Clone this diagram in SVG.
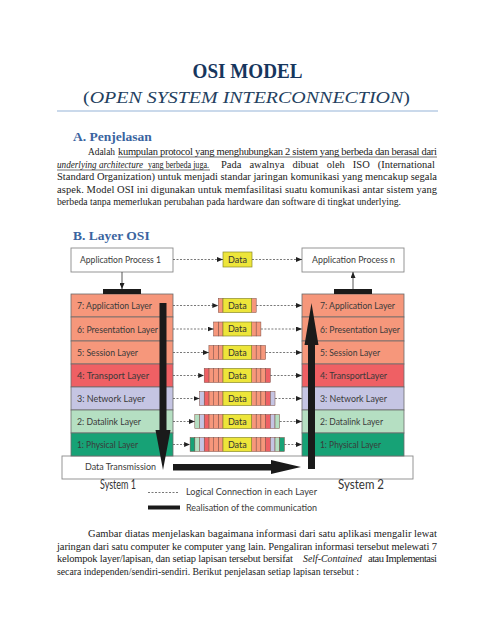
<svg xmlns="http://www.w3.org/2000/svg" width="495" height="640" viewBox="0 0 495 640">
<defs>
<style>
.body{font-family:"Liberation Serif","Times New Roman",serif;font-size:10.5px;fill:#222}
.it{font-style:italic}
.ul{stroke:#333;stroke-width:0.7}
.head{font-family:"Liberation Serif",serif;font-weight:bold;font-size:13.5px;fill:#3a64a0}
.lbl{font-family:Lato,"Open Sans","Liberation Sans",sans-serif;font-size:9.5px;fill:#3a3a3a}
.dat{font-family:Lato,"Open Sans","Liberation Sans",sans-serif;font-size:9px;fill:#333;text-anchor:middle}
.box{fill:#fff;stroke:#8a8a8a;stroke-width:0.9}
.row{stroke:#6b6b6b;stroke-width:0.8}
.l7{fill:#f6977b}.l4{fill:#ef6064}.l3{fill:#c5c5e3}.l2{fill:#b5dfc2}.l1{fill:#17a276}
.sec{stroke:#7a4a40;stroke-width:0.5}
.yel{fill:#ede53a;stroke:#8a8a2a;stroke-width:0.7}
.dash{stroke:#555;stroke-width:0.8;stroke-dasharray:2 1.5;fill:none}
.blk{fill:#1a1a1a}
</style>
<marker id="ah" markerWidth="6" markerHeight="5" refX="6" refY="2.5" orient="auto" markerUnits="userSpaceOnUse">
<path d="M0,0 L6,2.5 L0,5 Z" fill="#222"/>
</marker>
</defs>
<rect width="495" height="640" fill="#fff"/>

<g id="title">
<text x="247.5" y="78" text-anchor="middle" font-family="Liberation Serif,serif" font-weight="bold" font-size="22" fill="#17365d" textLength="110" lengthAdjust="spacingAndGlyphs">OSI MODEL</text>
<text x="83" y="103" font-family="Liberation Serif,serif" font-size="17" fill="#243f60" textLength="327" lengthAdjust="spacingAndGlyphs">(<tspan font-style="italic">OPEN SYSTEM INTERCONNECTION</tspan>)</text>
<line x1="57" y1="111" x2="438" y2="111" stroke="#95b3d7" stroke-width="1"/>
</g>

<g id="section-a">
<text class="head" x="73" y="141">A. Penjelasan</text>
<text class="body" x="88" y="155" textLength="27" lengthAdjust="spacingAndGlyphs">Adalah</text>
<text class="body" x="118" y="155" textLength="319" lengthAdjust="spacing">kumpulan protocol yang menghubungkan 2 sistem yang berbeda dan berasal dari</text>
<line class="ul" x1="118" y1="157" x2="437" y2="157"/>
<text class="body it" x="57" y="168" textLength="86" lengthAdjust="spacingAndGlyphs">underlying architecture</text>
<text class="body" x="148" y="168" textLength="61" lengthAdjust="spacingAndGlyphs">yang berbeda juga.</text>
<line class="ul" x1="57" y1="170" x2="210" y2="170"/>
<text class="body" x="221" y="168" word-spacing="5.4">Pada awalnya dibuat oleh ISO (International</text>
<text class="body" x="57" y="180" textLength="380" lengthAdjust="spacing">Standard Organization) untuk menjadi standar jaringan komunikasi yang mencakup segala</text>
<text class="body" x="57" y="193" textLength="380" lengthAdjust="spacing">aspek. Model OSI ini digunakan untuk memfasilitasi suatu komunikasi antar sistem yang</text>
<text class="body" x="57" y="205" textLength="344" lengthAdjust="spacingAndGlyphs">berbeda tanpa memerlukan  perubahan pada hardware dan software di tingkat  underlying.</text>
</g>

<text class="head" x="73" y="240">B. Layer OSI</text>

<g id="transmission">
<rect class="box" x="62" y="456" width="351" height="23"/>
<text class="lbl" x="85" y="470" textLength="71" lengthAdjust="spacingAndGlyphs">Data Transmission</text>
</g>

<g id="app1">
<rect class="box" x="71" y="248" width="102" height="24"/>
<text class="lbl" x="80" y="263" textLength="81" lengthAdjust="spacingAndGlyphs">Application Process 1</text>
</g>
<g id="appn">
<rect class="box" x="302" y="248" width="102" height="24"/>
<text class="lbl" x="312" y="263" textLength="83" lengthAdjust="spacingAndGlyphs">Application Process n</text>
</g>
<g id="data-top">
<rect class="yel" x="223" y="252" width="29" height="15"/>
<text class="dat" x="237.5" y="263">Data</text>
</g>

<g id="stack1">
<rect class="l7 row" x="71" y="294" width="102" height="23"/>
<rect class="l7 row" x="71" y="317" width="102" height="24"/>
<rect class="l7 row" x="71" y="341" width="102" height="23"/>
<rect class="l4 row" x="71" y="364" width="102" height="23"/>
<rect class="l3 row" x="71" y="387" width="102" height="23"/>
<rect class="l2 row" x="71" y="410" width="102" height="23"/>
<rect class="l1 row" x="71" y="433" width="102" height="23"/>
<text class="lbl" x="77" y="309" textLength="75" lengthAdjust="spacingAndGlyphs">7: Application Layer</text>
<text class="lbl" x="77" y="333" textLength="81" lengthAdjust="spacingAndGlyphs">6: Presentation Layer</text>
<text class="lbl" x="77" y="356" textLength="61" lengthAdjust="spacingAndGlyphs">5: Session Layer</text>
<text class="lbl" x="77" y="379" textLength="72" lengthAdjust="spacingAndGlyphs">4: Transport Layer</text>
<text class="lbl" x="77" y="402" textLength="68" lengthAdjust="spacingAndGlyphs">3: Network Layer</text>
<text class="lbl" x="77" y="425" textLength="64" lengthAdjust="spacingAndGlyphs">2: Datalink Layer</text>
<text class="lbl" x="77" y="448" textLength="61" lengthAdjust="spacingAndGlyphs" fill="#1f5a48">1: Physical Layer</text>
</g>

<g id="stack2">
<rect class="l7 row" x="302" y="294" width="102" height="23"/>
<rect class="l7 row" x="302" y="317" width="102" height="24"/>
<rect class="l7 row" x="302" y="341" width="102" height="23"/>
<rect class="l4 row" x="302" y="364" width="102" height="23"/>
<rect class="l3 row" x="302" y="387" width="102" height="23"/>
<rect class="l2 row" x="302" y="410" width="102" height="23"/>
<rect class="l1 row" x="302" y="433" width="102" height="23"/>
<text class="lbl" x="320" y="309" textLength="75" lengthAdjust="spacingAndGlyphs">7: Application Layer</text>
<text class="lbl" x="320" y="333" textLength="80" lengthAdjust="spacingAndGlyphs">6: Presentation Layer</text>
<text class="lbl" x="320" y="356" textLength="60" lengthAdjust="spacingAndGlyphs">5: Session Layer</text>
<text class="lbl" x="320" y="379" textLength="67" lengthAdjust="spacingAndGlyphs">4: TransportLayer</text>
<text class="lbl" x="320" y="402" textLength="67" lengthAdjust="spacingAndGlyphs">3: Network Layer</text>
<text class="lbl" x="320" y="425" textLength="63" lengthAdjust="spacingAndGlyphs">2: Datalink Layer</text>
<text class="lbl" x="320" y="448" textLength="61" lengthAdjust="spacingAndGlyphs" fill="#1f5a48">1: Physical Layer</text>
</g>

<g id="packet7">
<rect class="l7 sec" x="218.3" y="298.5" width="4.7" height="14"/>
<rect class="l7 sec" x="251.5" y="298.5" width="4.7" height="14"/>
<rect class="yel" x="223" y="298.5" width="28.5" height="14"/>
<text class="dat" x="237.3" y="308.8">Data</text>
</g>
<g id="packet6">
<rect class="l7 sec" x="218.3" y="322" width="4.7" height="14"/><rect class="l7 sec" x="213.6" y="322" width="4.7" height="14"/>
<rect class="l7 sec" x="251.5" y="322" width="4.7" height="14"/><rect class="l7 sec" x="256.2" y="322" width="4.7" height="14"/>
<rect class="yel" x="223" y="322" width="28.5" height="14"/>
<text class="dat" x="237.3" y="332.3">Data</text>
</g>
<g id="packet5">
<rect class="l7 sec" x="218.3" y="345.5" width="4.7" height="14"/><rect class="l7 sec" x="213.6" y="345.5" width="4.7" height="14"/><rect class="l7 sec" x="208.9" y="345.5" width="4.7" height="14"/>
<rect class="l7 sec" x="251.5" y="345.5" width="4.7" height="14"/><rect class="l7 sec" x="256.2" y="345.5" width="4.7" height="14"/><rect class="l7 sec" x="260.9" y="345.5" width="4.7" height="14"/>
<rect class="yel" x="223" y="345.5" width="28.5" height="14"/>
<text class="dat" x="237.3" y="355.8">Data</text>
</g>
<g id="packet4">
<rect class="l7 sec" x="218.3" y="368.5" width="4.7" height="14"/><rect class="l7 sec" x="213.6" y="368.5" width="4.7" height="14"/><rect class="l7 sec" x="208.9" y="368.5" width="4.7" height="14"/><rect class="l4 sec" x="204.2" y="368.5" width="4.7" height="14"/>
<rect class="l7 sec" x="251.5" y="368.5" width="4.7" height="14"/><rect class="l7 sec" x="256.2" y="368.5" width="4.7" height="14"/><rect class="l7 sec" x="260.9" y="368.5" width="4.7" height="14"/><rect class="l4 sec" x="265.6" y="368.5" width="4.7" height="14"/>
<rect class="yel" x="223" y="368.5" width="28.5" height="14"/>
<text class="dat" x="237.3" y="378.8">Data</text>
</g>
<g id="packet3">
<rect class="l7 sec" x="218.3" y="391.5" width="4.7" height="14"/><rect class="l7 sec" x="213.6" y="391.5" width="4.7" height="14"/><rect class="l7 sec" x="208.9" y="391.5" width="4.7" height="14"/><rect class="l4 sec" x="204.2" y="391.5" width="4.7" height="14"/><rect class="l3 sec" x="199.5" y="391.5" width="4.7" height="14"/>
<rect class="l7 sec" x="251.5" y="391.5" width="4.7" height="14"/><rect class="l7 sec" x="256.2" y="391.5" width="4.7" height="14"/><rect class="l7 sec" x="260.9" y="391.5" width="4.7" height="14"/><rect class="l4 sec" x="265.6" y="391.5" width="4.7" height="14"/><rect class="l3 sec" x="270.3" y="391.5" width="4.7" height="14"/>
<rect class="yel" x="223" y="391.5" width="28.5" height="14"/>
<text class="dat" x="237.3" y="401.8">Data</text>
</g>
<g id="packet2">
<rect class="l7 sec" x="218.3" y="414.5" width="4.7" height="14"/><rect class="l7 sec" x="213.6" y="414.5" width="4.7" height="14"/><rect class="l7 sec" x="208.9" y="414.5" width="4.7" height="14"/><rect class="l4 sec" x="204.2" y="414.5" width="4.7" height="14"/><rect class="l3 sec" x="199.5" y="414.5" width="4.7" height="14"/><rect class="l2 sec" x="194.8" y="414.5" width="4.7" height="14"/>
<rect class="l7 sec" x="251.5" y="414.5" width="4.7" height="14"/><rect class="l7 sec" x="256.2" y="414.5" width="4.7" height="14"/><rect class="l7 sec" x="260.9" y="414.5" width="4.7" height="14"/><rect class="l4 sec" x="265.6" y="414.5" width="4.7" height="14"/><rect class="l3 sec" x="270.3" y="414.5" width="4.7" height="14"/><rect class="l2 sec" x="275" y="414.5" width="4.7" height="14"/>
<rect class="yel" x="223" y="414.5" width="28.5" height="14"/>
<text class="dat" x="237.3" y="424.8">Data</text>
</g>
<g id="packet1">
<rect class="l7 sec" x="218.3" y="437.5" width="4.7" height="14"/><rect class="l7 sec" x="213.6" y="437.5" width="4.7" height="14"/><rect class="l7 sec" x="208.9" y="437.5" width="4.7" height="14"/><rect class="l4 sec" x="204.2" y="437.5" width="4.7" height="14"/><rect class="l3 sec" x="199.5" y="437.5" width="4.7" height="14"/><rect class="l2 sec" x="194.8" y="437.5" width="4.7" height="14"/><rect class="l1 sec" x="190.1" y="437.5" width="4.7" height="14"/>
<rect class="l7 sec" x="251.5" y="437.5" width="4.7" height="14"/><rect class="l7 sec" x="256.2" y="437.5" width="4.7" height="14"/><rect class="l7 sec" x="260.9" y="437.5" width="4.7" height="14"/><rect class="l4 sec" x="265.6" y="437.5" width="4.7" height="14"/><rect class="l3 sec" x="270.3" y="437.5" width="4.7" height="14"/><rect class="l2 sec" x="275" y="437.5" width="4.7" height="14"/><rect class="l1 sec" x="279.7" y="437.5" width="4.7" height="14"/>
<rect class="yel" x="223" y="437.5" width="28.5" height="14"/>
<text class="dat" x="237.3" y="447.8">Data</text>
</g>

<g id="connectors">
<line class="dash" x1="173" y1="259.5" x2="223" y2="259.5" marker-end="url(#ah)"/>
<line class="dash" x1="252" y1="259.5" x2="302" y2="259.5" marker-end="url(#ah)"/>
<line class="dash" x1="173" y1="305.5" x2="218.3" y2="305.5" marker-end="url(#ah)"/>
<line class="dash" x1="256.2" y1="305.5" x2="302" y2="305.5" marker-end="url(#ah)"/>
<line class="dash" x1="173" y1="329" x2="213.6" y2="329" marker-end="url(#ah)"/>
<line class="dash" x1="260.9" y1="329" x2="302" y2="329" marker-end="url(#ah)"/>
<line class="dash" x1="173" y1="352.5" x2="208.9" y2="352.5" marker-end="url(#ah)"/>
<line class="dash" x1="265.6" y1="352.5" x2="302" y2="352.5" marker-end="url(#ah)"/>
<line class="dash" x1="173" y1="375.5" x2="204.2" y2="375.5" marker-end="url(#ah)"/>
<line class="dash" x1="270.3" y1="375.5" x2="302" y2="375.5" marker-end="url(#ah)"/>
<line class="dash" x1="173" y1="398.5" x2="199.5" y2="398.5" marker-end="url(#ah)"/>
<line class="dash" x1="275" y1="398.5" x2="302" y2="398.5" marker-end="url(#ah)"/>
<line class="dash" x1="173" y1="421.5" x2="194.8" y2="421.5" marker-end="url(#ah)"/>
<line class="dash" x1="279.7" y1="421.5" x2="302" y2="421.5" marker-end="url(#ah)"/>
<line class="dash" x1="173" y1="444.5" x2="190.1" y2="444.5" marker-end="url(#ah)"/>
<line class="dash" x1="284.4" y1="444.5" x2="302" y2="444.5" marker-end="url(#ah)"/>
<line x1="122" y1="272" x2="122" y2="289" stroke="#444" stroke-width="0.9" marker-end="url(#ah)"/>
<line x1="353" y1="289" x2="353" y2="272" stroke="#444" stroke-width="0.9" marker-end="url(#ah)"/>
<rect class="blk" x="103" y="289" width="38" height="5"/>
<rect class="blk" x="334" y="289" width="38" height="5"/>
<path class="blk" d="M159.5,303 H166.5 V430 H170.5 L163,470 L155.5,430 H159.5 Z"/>
<path class="blk" d="M308,469 H315 V345 H318.5 L311.5,303 L304.5,345 H308 Z"/>
<path class="blk" d="M173,464 H271 V460 L301,467 L271,474 V470.5 H173 Z"/>
</g>

<g id="legend">
<text x="100" y="489" font-family="Lato,'Open Sans','Liberation Sans',sans-serif" font-size="13" fill="#333" textLength="36" lengthAdjust="spacingAndGlyphs">System 1</text>
<text x="338" y="489" font-family="Lato,'Open Sans','Liberation Sans',sans-serif" font-size="13" fill="#333" textLength="46" lengthAdjust="spacingAndGlyphs">System 2</text>
<line class="dash" x1="148" y1="492.5" x2="178" y2="492.5" stroke-dasharray="1.5 1"/>
<text class="lbl" x="186" y="495" font-size="9" textLength="131" lengthAdjust="spacingAndGlyphs">Logical Connection  in  each Layer</text>
<rect class="blk" x="148" y="505.5" width="32" height="4"/>
<text class="lbl" x="186" y="511" font-size="9" textLength="131" lengthAdjust="spacingAndGlyphs">Realisation  of the  communication</text>
</g>

<g id="paragraph-2">
<text class="body" x="88" y="537" textLength="349" lengthAdjust="spacing">Gambar diatas menjelaskan bagaimana informasi dari satu aplikasi mengalir lewat</text>
<text class="body" x="57" y="550" textLength="380" lengthAdjust="spacing">jaringan dari satu computer ke computer yang lain. Pengaliran informasi tersebut melewati 7</text>
<text class="body" x="57" y="562" textLength="236" lengthAdjust="spacing">kelompok layer/lapisan, dan setiap lapisan tersebut bersifat</text>
<text class="body it" x="303" y="562" textLength="59" lengthAdjust="spacingAndGlyphs">Self-Contained</text>
<text class="body" x="368" y="562" textLength="69" lengthAdjust="spacing">atau Implementasi</text>
<text class="body" x="57" y="575" textLength="302" lengthAdjust="spacingAndGlyphs">secara independen/sendiri-sendiri.  Berikut penjelasan setiap lapisan tersebut :</text>
</g>
</svg>
